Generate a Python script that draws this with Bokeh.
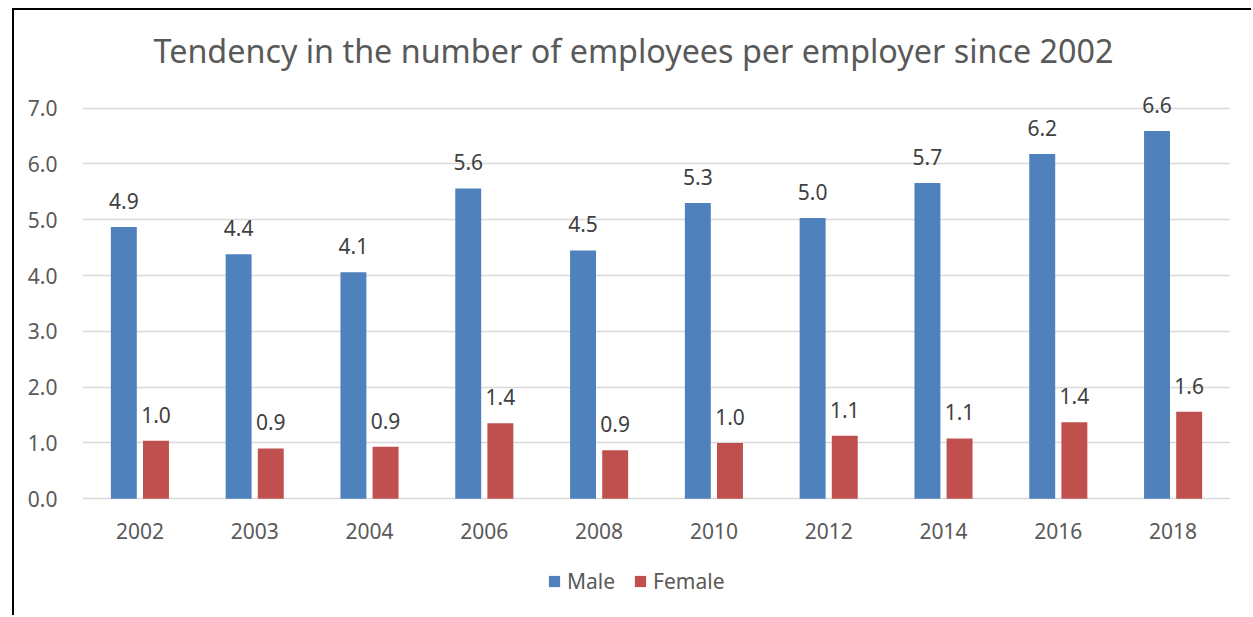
from bokeh.plotting import figure
from bokeh.models import (ColumnDataSource, FactorRange, Range1d, Legend, LegendItem, LabelSet,
                          Title, CustomJSTickFormatter)
from bokeh.core.properties import value
from bokeh.transform import dodge
from bokeh.embed import file_html
from bokeh.resources import INLINE

years = ["2002", "2003", "2004", "2006", "2008", "2010", "2012", "2014", "2016", "2018"]
male = [4.87, 4.38, 4.06, 5.56, 4.45, 5.30, 5.03, 5.66, 6.18, 6.59]
female = [1.04, 0.90, 0.93, 1.35, 0.87, 1.00, 1.13, 1.08, 1.37, 1.56]
series = ["Male", "Female"]
colors = ["#4F81BD", "#C0504D"]
y_ticks = [0, 1, 2, 3, 4, 5, 6, 7]
title_text = "Tendency in the number of employees per employer since 2002"

FONT = "Noto Sans"
GREY = "#595959"

src = ColumnDataSource(dict(
    x=years, male=male, female=female,
    male_lbl=[f"{v:.1f}" for v in male],
    female_lbl=[f"{v:.1f}" for v in female],
))

p = figure(
    width=1239, height=607,
    x_range=FactorRange(*years, range_padding=0),
    y_range=Range1d(-2.13, 7.37),
    output_backend="svg", toolbar_location=None,
    min_border_left=68, min_border_right=23, min_border_top=69, min_border_bottom=0,
    styles={"margin-left": "12px", "margin-top": "8px",
            "border-left": "2px solid black", "border-top": "2px solid black"},
)
p.title = Title(text=title_text, align="left", text_font=FONT, text_font_size="32.3px",
                text_font_style="normal", text_color=GREY, offset=71, standoff=31)
p.outline_line_color = None

r_m = p.vbar(x=dodge("x", -0.14, range=p.x_range), top="male", width=0.226, source=src,
             fill_color=colors[0], line_color=None)
r_f = p.vbar(x=dodge("x", 0.14, range=p.x_range), top="female", width=0.226, source=src,
             fill_color=colors[1], line_color=None)

for col, off in (("male", -0.14), ("female", 0.14)):
    lbl = LabelSet(x=dodge("x", off, range=p.x_range), y=col, text=col + "_lbl", source=src,
                   text_align="center", text_baseline="bottom", y_offset=18,
                   text_font=value(FONT), text_font_size="21px", text_color="#404040")
    p.add_layout(lbl)

p.yaxis.ticker = y_ticks
p.yaxis.formatter = CustomJSTickFormatter(code="return tick.toFixed(1);")
p.xaxis.fixed_location = 0
for ax in (p.xaxis[0], p.yaxis[0]):
    ax.axis_line_color = None
    ax.major_tick_line_color = None
    ax.minor_tick_line_color = None
    ax.major_label_text_font = FONT
    ax.major_label_text_font_size = "21px"
    ax.major_label_text_color = GREY
p.yaxis.major_label_standoff = 19
p.xaxis.major_label_standoff = 18
p.xgrid.grid_line_color = None
p.ygrid.grid_line_color = "#D9D9D9"
p.ygrid.grid_line_width = 1.5

legend = Legend(items=[LegendItem(label="Male", renderers=[r_m]),
                       LegendItem(label="Female", renderers=[r_f])],
                orientation="horizontal", location=(465, 22),
                label_text_font=FONT, label_text_font_size="21px", label_text_color=GREY,
                glyph_width=14, glyph_height=14, spacing=18, label_standoff=6,
                padding=0, margin=0,
                border_line_color=None, background_fill_alpha=0)
p.add_layout(legend)

open("out.html", "w").write(file_html(p, INLINE))
